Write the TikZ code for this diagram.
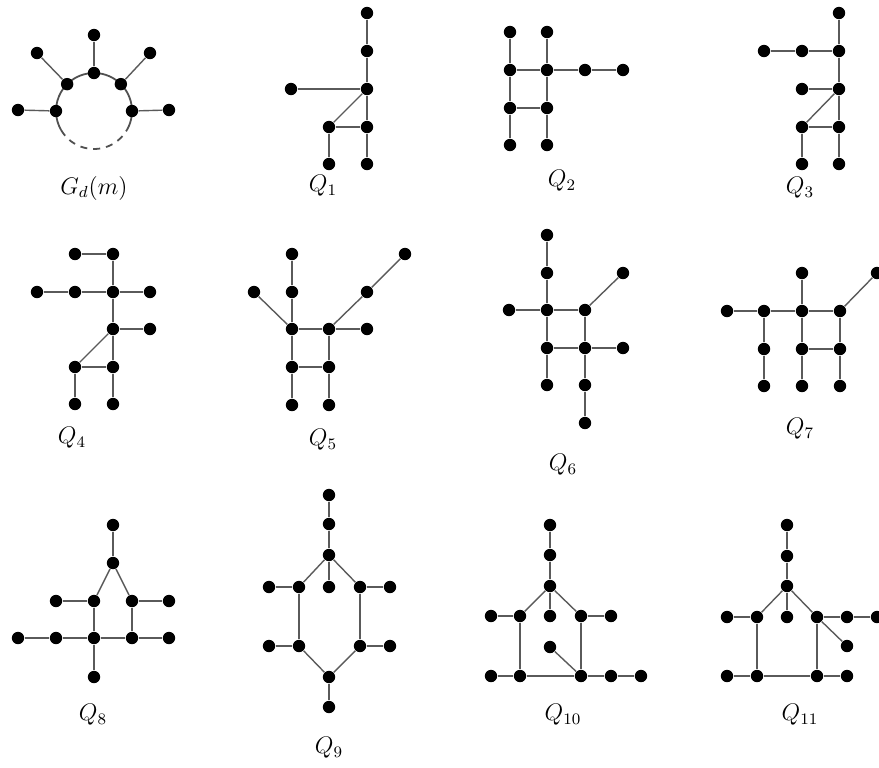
\documentclass[tikz,border=0pt]{standalone}
\usetikzlibrary{calc}
\definecolor{edgecol}{RGB}{90, 90, 90}
\definecolor{ringcol}{RGB}{80, 80, 80}
\tikzset{
  vtx/.style  = {circle, fill=black, draw=none, inner sep=0pt, minimum size=6.2pt},
  edg/.style  = {draw=edgecol, line width=0.7pt},
  ring/.style = {draw=ringcol, line width=0.9pt},
  % the missing part of the cycle
  gap/.style  = {ring, dash pattern=on 3.5pt off 3pt},
  glbl/.style = {inner sep=1pt, font=\fontsize{11.8}{14}\selectfont},
}
\begin{document}
\begin{tikzpicture}[x=0.5pt, y=-0.5pt]
  \useasboundingbox (0,0) rectangle (879,767);

  %% ---------------- G_d(m) ----------------
  \coordinate (gc) at (94,111);
  \draw[ring] ($(gc)+(-30:19pt)$) arc[start angle=-30, end angle=210, radius=19pt];
  \draw[gap] ($(gc)+(210:19pt)$) arc[start angle=210, end angle=330, radius=19pt];
  \foreach \a in {0, 45, 90, 135, 180}
    \node[vtx] (gd\a) at ($(gc)+(\a:19pt)$) {};
  \foreach \n/\x/\y in {gl180/18/110, gl135/37/53, gl90/94/35, gl45/150/53, gl0/169/110}
    \node[vtx] (\n) at (\x,\y) {};
  \foreach \a in {0, 45, 90, 135, 180}
    \draw[edg] (gd\a) -- (gl\a);
  \node[glbl] (lab0) at (94,188) {$G_d(m)$};

  %% ---------------- Q_1 ----------------
  \foreach \n/\x/\y in {a/367/13, b/367/51, c/367/89, d/291/89, e/329/127,
                        f/367/127, g/329/164, h/367/164}
    \node[vtx] (q1\n) at (\x,\y) {};
  \foreach \s/\t in {a/b, b/c, c/f, f/h, d/c, c/e, e/f, e/g}
    \draw[edg] (q1\s) -- (q1\t);
  \node[glbl] (lab1) at (323,186) {$Q_1$};

  %% ---------------- Q_2 ----------------
  \foreach \n/\x/\y in {a/510/32, b/547/32, c/510/70, d/547/70, e/585/70,
                        f/623/70, g/510/108, h/547/108, i/510/145, j/547/145}
    \node[vtx] (q2\n) at (\x,\y) {};
  \foreach \s/\t in {a/c, c/g, g/i, b/d, d/h, h/j, c/d, d/e, e/f, g/h}
    \draw[edg] (q2\s) -- (q2\t);
  \node[glbl] (lab2) at (562,181) {$Q_2$};

  %% ---------------- Q_3 ----------------
  \foreach \n/\x/\y in {a/839/13, b/764/51, c/802/51, d/839/51, e/802/89,
                        f/839/89, g/802/127, h/839/127, i/802/164, j/839/164}
    \node[vtx] (q3\n) at (\x,\y) {};
  \foreach \s/\t in {a/d, d/f, f/h, h/j, b/c, c/d, e/f, f/g, g/h, g/i}
    \draw[edg] (q3\s) -- (q3\t);
  \node[glbl] (lab3) at (800,188) {$Q_3$};

  %% ---------------- Q_4 ----------------
  \foreach \n/\x/\y in {a/75/254, b/113/254, c/37/292, d/75/292, e/113/292,
                        f/150/292, g/113/329, h/150/329, i/75/367, j/113/367,
                        k/75/404, l/113/404}
    \node[vtx] (q4\n) at (\x,\y) {};
  \foreach \s/\t in {a/b, b/e, e/g, g/j, j/l, c/d, d/e, e/f, g/h, g/i, i/j, i/k}
    \draw[edg] (q4\s) -- (q4\t);
  \node[glbl] (lab4) at (72,438) {$Q_4$};

  %% ---------------- Q_5 ----------------
  \foreach \n/\x/\y in {a/292/254, b/405/254, c/254/292, d/292/292, e/367/292,
                        f/292/329, g/329/329, h/367/329, i/292/367, j/329/367,
                        k/292/405, l/329/405}
    \node[vtx] (q5\n) at (\x,\y) {};
  \foreach \s/\t in {a/d, d/f, f/i, i/k, c/f, f/g, g/h, g/e, e/b, g/j, j/l, i/j}
    \draw[edg] (q5\s) -- (q5\t);
  \node[glbl] (lab5) at (323,440) {$Q_5$};

  %% ---------------- Q_6 ----------------
  \foreach \n/\x/\y in {a/547/235, b/547/273, c/623/273, d/509/310, e/547/310,
                        f/585/310, g/547/348, h/585/348, i/623/348, j/547/385,
                        k/585/385, l/585/423}
    \node[vtx] (q6\n) at (\x,\y) {};
  \foreach \s/\t in {a/b, b/e, e/g, g/j, d/e, e/f, f/c, f/h, h/k, k/l, g/h, h/i}
    \draw[edg] (q6\s) -- (q6\t);
  \node[glbl] (lab6) at (563,465) {$Q_6$};

  %% ---------------- Q_7 ----------------
  \foreach \n/\x/\y in {a/802/273, b/877/273, c/727/311, d/764/311, e/802/311,
                        f/840/311, g/764/349, h/802/349, i/840/349, j/764/386,
                        k/802/386, l/840/386}
    \node[vtx] (q7\n) at (\x,\y) {};
  \foreach \s/\t in {c/d, d/e, e/f, f/b, a/e, e/h, h/k, d/g, g/j, f/i, i/l, h/i}
    \draw[edg] (q7\s) -- (q7\t);
  \node[glbl] (lab7) at (800,429) {$Q_7$};

  %% ---------------- Q_8 ----------------
  \foreach \n/\x/\y in {a/113/525, b/113/563, c/56/601, d/94/601, e/132/601,
                        f/169/601, g/18/638, h/56/638, i/94/638, j/132/638,
                        k/169/638, l/94/677}
    \node[vtx] (q8\n) at (\x,\y) {};
  \foreach \s/\t in {a/b, b/d, b/e, c/d, e/f, d/i, i/l, e/j, g/h, h/i, i/j, j/k}
    \draw[edg] (q8\s) -- (q8\t);
  \node[glbl] (lab8) at (93,715) {$Q_8$};

  %% ---------------- Q_9 ----------------
  \foreach \n/\x/\y in {a/329/495, b/329/524, c/329/555, d/269/587, e/299/587,
                        f/329/587, g/360/587, h/390/587, i/269/646, j/299/646,
                        k/360/646, l/390/646, m/329/677, n/329/707}
    \node[vtx] (q9\n) at (\x,\y) {};
  \foreach \s/\t in {a/b, b/c, c/f, c/e, c/g, d/e, g/h, e/j, g/k, i/j, k/l,
                     j/m, k/m, m/n}
    \draw[edg] (q9\s) -- (q9\t);
  \node[glbl] (lab9) at (329,748) {$Q_9$};

  %% ---------------- Q_10 ----------------
  \foreach \n/\x/\y in {a/550/525, b/550/555, c/550/586, d/491/616, e/520/616,
                        f/550/616, g/581/616, h/611/616, i/550/647, j/491/676,
                        k/520/676, l/581/676, m/611/676, n/641/676}
    \node[vtx] (qa\n) at (\x,\y) {};
  \foreach \s/\t in {a/b, b/c, c/f, c/e, c/g, d/e, g/h, e/k, g/l, i/l, j/k,
                     k/l, l/m, m/n}
    \draw[edg] (qa\s) -- (qa\t);
  \node[glbl] (lab10) at (563,715) {$Q_{10}$};

  %% ---------------- Q_11 ----------------
  \foreach \n/\x/\y in {a/787/525, b/787/556, c/787/586, d/727/617, e/757/617,
                        f/787/617, g/817/617, h/847/617, i/877/617, j/847/646,
                        k/727/676, l/757/676, m/817/676, n/847/676}
    \node[vtx] (qb\n) at (\x,\y) {};
  \foreach \s/\t in {a/b, b/c, c/f, c/e, c/g, d/e, g/h, h/i, g/j, e/l, g/m,
                     k/l, l/m, m/n}
    \draw[edg] (qb\s) -- (qb\t);
  \node[glbl] (lab11) at (800,715) {$Q_{11}$};

\end{tikzpicture}
\end{document}
